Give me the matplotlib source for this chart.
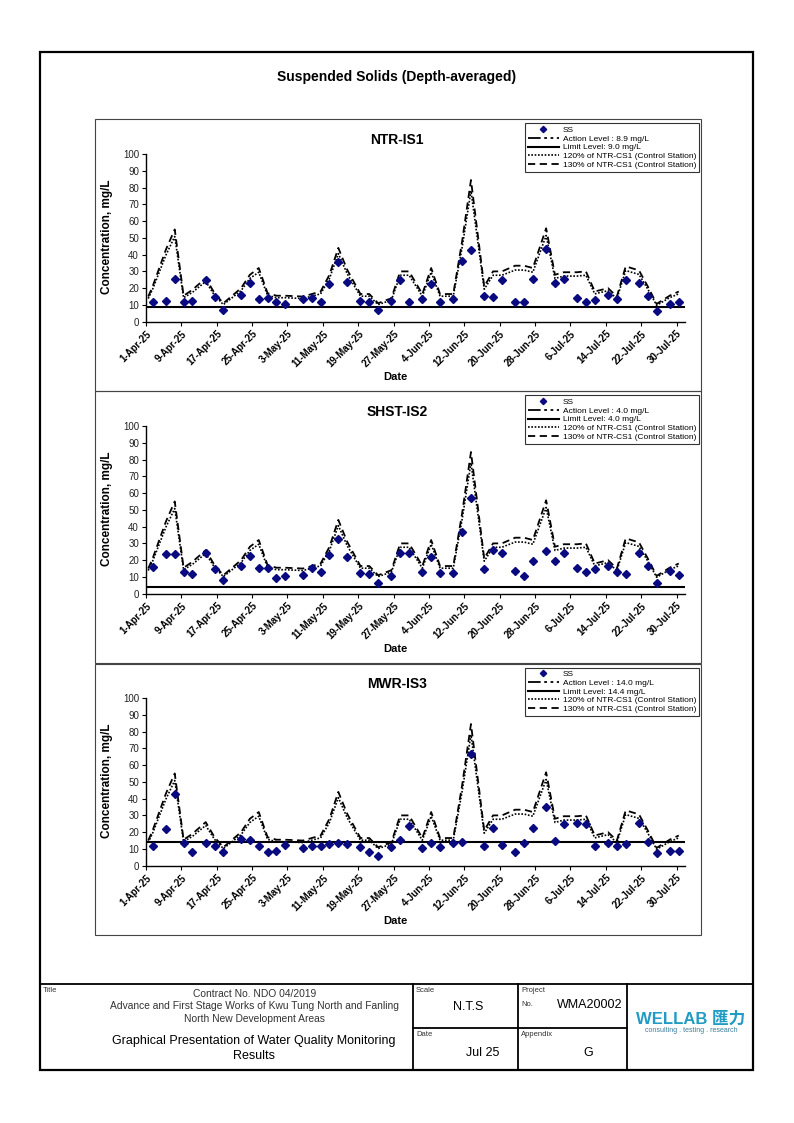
import numpy as np
import pandas as pd
import matplotlib
matplotlib.use('Agg')
import matplotlib.pyplot as plt
import matplotlib.dates as mdates
from matplotlib.lines import Line2D
from matplotlib.patches import Rectangle

plt.rcParams['font.family'] = ['Liberation Sans', 'Noto Sans CJK SC', 'DejaVu Sans']

# 采样日期 (监测站)
ss_dates = ['2025-04-02', '2025-04-05', '2025-04-07', '2025-04-09', '2025-04-11', '2025-04-14',
            '2025-04-16', '2025-04-18', '2025-04-22', '2025-04-24', '2025-04-26', '2025-04-28',
            '2025-04-30', '2025-05-02', '2025-05-06', '2025-05-08', '2025-05-10', '2025-05-12',
            '2025-05-14', '2025-05-16', '2025-05-19', '2025-05-21', '2025-05-23', '2025-05-26',
            '2025-05-28', '2025-05-30', '2025-06-02', '2025-06-04', '2025-06-06', '2025-06-09',
            '2025-06-11', '2025-06-13', '2025-06-16', '2025-06-18', '2025-06-20', '2025-06-23',
            '2025-06-25', '2025-06-27', '2025-06-30', '2025-07-02', '2025-07-04', '2025-07-07',
            '2025-07-09', '2025-07-11', '2025-07-14', '2025-07-16', '2025-07-18', '2025-07-21',
            '2025-07-23', '2025-07-25', '2025-07-28', '2025-07-30']
ctrl_dates = ['2025-04-01'] + ss_dates

# SS, mg/L
ss_ntr = [11.6, 12.4, 25.6, 11.6, 12.4, 24.6, 14.6, 6.8, 16.2, 23.0, 13.4, 14.0, 12.0,
          10.8, 13.6, 14.0, 11.6, 22.2, 35.6, 23.4, 12.6, 11.6, 6.8, 12.4, 24.6, 11.6,
          13.4, 22.6, 11.6, 13.4, 36.0, 43.0, 15.2, 14.6, 24.6, 11.6, 11.6, 25.6, 43.6,
          23.0, 25.6, 14.2, 11.6, 12.8, 16.2, 13.6, 24.6, 23.2, 15.4, 6.6, 10.8, 12.0]
ss_shst = [16.0, 23.6, 23.6, 13.0, 12.0, 24.2, 14.6, 8.0, 16.6, 22.6, 15.6, 15.6, 9.4,
           10.4, 11.4, 15.6, 13.0, 23.0, 32.6, 22.0, 12.6, 11.6, 6.6, 10.4, 24.2, 24.2,
           13.0, 22.0, 12.6, 12.6, 36.6, 57.2, 14.6, 25.8, 24.0, 13.6, 10.8, 19.4, 25.6,
           19.4, 24.0, 15.6, 13.0, 14.6, 16.6, 13.0, 11.6, 24.2, 16.4, 6.4, 13.4, 11.4]
ss_mwr = [11.6, 22.0, 42.6, 13.6, 8.0, 13.6, 12.0, 8.4, 16.0, 15.6, 12.0, 8.0, 9.0,
          12.6, 10.6, 11.6, 11.6, 13.2, 13.6, 13.2, 11.4, 8.0, 5.8, 11.4, 15.4, 23.6,
          10.8, 13.8, 11.0, 13.4, 14.4, 66.5, 11.6, 22.2, 12.6, 8.0, 13.6, 22.6, 35.0,
          14.6, 24.6, 25.4, 24.6, 11.6, 13.6, 11.6, 13.0, 25.4, 14.0, 7.6, 8.6, 8.6]

# NTR-CS1 对照站 120% / 130%
ctrl_120 = [13.8, 19.4, 39.7, 50.8, 14.3, 17.5, 24.0, 15.7, 10.2, 18.5, 25.8, 29.5, 15.7, 14.3,
            14.3, 13.8, 15.2, 16.6, 25.8, 40.6, 28.6, 15.2, 15.2, 10.2, 12.9, 27.7, 27.7,
            15.2, 29.5, 15.2, 15.2, 44.3, 78.0, 19.4, 27.7, 27.7, 30.8, 30.8, 29.5, 51.4,
            25.8, 27.2, 27.2, 27.7, 16.6, 18.5, 13.8, 30.5, 28.2, 19.4, 9.8, 14.4, 16.6]
ctrl_130 = [15.0, 21.0, 43.0, 55.0, 15.5, 19.0, 26.0, 17.0, 11.0, 20.0, 28.0, 32.0, 17.0, 15.5,
            15.5, 15.0, 16.5, 18.0, 28.0, 44.0, 31.0, 16.5, 16.5, 11.0, 14.0, 30.0, 30.0,
            16.5, 32.0, 16.5, 16.5, 48.0, 84.5, 21.0, 30.0, 30.0, 33.4, 33.4, 32.0, 55.7,
            28.0, 29.5, 29.5, 30.0, 18.0, 20.0, 15.0, 33.0, 30.6, 21.0, 10.6, 15.6, 18.0]

stations = ['NTR-IS1', 'SHST-IS2', 'MWR-IS3']
ss_values = [ss_ntr, ss_shst, ss_mwr]
action_levels = [8.9, 4.0, 14.0]
limit_levels = [9.0, 4.0, 14.4]

W, H = 794, 1123


def fx(x):
    return x / W


def fy(y):
    return 1 - y / H


def date_label(d, pos=None):
    d = mdates.num2date(d)
    return f"{d.day}-{d.strftime('%b-%y')}"


fig = plt.figure(figsize=(W / 100, H / 100), dpi=100)

# 页面外框
fig.patches.append(Rectangle((fx(40), fy(1070)), fx(753) - fx(40), fy(52) - fy(1070),
                             transform=fig.transFigure, fill=False, lw=1.6, ec='black'))
fig.text(fx(397), fy(77.5), 'Suspended Solids (Depth-averaged)', ha='center', va='center',
         fontsize=10, fontweight='bold')

half_day = pd.Timedelta(hours=12)
x_ss = pd.to_datetime(ss_dates) + half_day
x_ctrl = pd.to_datetime(ctrl_dates) + half_day
ticks = pd.date_range('2025-04-01', '2025-07-30', freq='8D')

action_dash = (7, 2, 1.5, 2, 1.5, 2)

for i, name in enumerate(stations):
    off = 272 * i

    # 图表边框
    fig.patches.append(Rectangle((fx(95), fy(391 + off)), fx(701) - fx(95), fy(119.5 + off) - fy(391 + off),
                                 transform=fig.transFigure, fill=False, lw=0.8, ec='#444444'))

    ax = fig.add_axes([fx(146), fy(321.7 + off), fx(685.4) - fx(146), (321.7 - 154) / H])
    ax.axhline(limit_levels[i], color='black', lw=1.5, zorder=2)
    ax.axhline(action_levels[i], color='black', lw=1.3, dashes=action_dash, zorder=2)
    ax.plot(x_ctrl, ctrl_120, color='black', lw=1.2, dashes=(1, 1), zorder=3)
    ax.plot(x_ctrl, ctrl_130, color='black', lw=1.3, dashes=(4, 2.5), zorder=3)
    ax.plot(x_ss, ss_values[i], linestyle='none', marker='D', markersize=3.7,
            color='#0a0a80', zorder=4)

    ax.set_xlim(pd.Timestamp('2025-04-01'), pd.Timestamp('2025-08-01'))
    ax.set_ylim(0, 100)
    ax.set_yticks(np.arange(0, 101, 10))
    ax.set_xticks(ticks)
    ax.xaxis.set_major_formatter(plt.FuncFormatter(date_label))
    for lab in ax.get_xticklabels():
        lab.set_rotation(45)
        lab.set_ha('right')
        lab.set_rotation_mode('anchor')
        lab.set_fontweight('bold')
    ax.tick_params(axis='x', labelsize=7, length=3, width=0.8, pad=2)
    ax.tick_params(axis='y', labelsize=7, length=3, width=0.8, pad=2, labelcolor='#222222')
    for s in ['top', 'right']:
        ax.spines[s].set_visible(False)
    for s in ['left', 'bottom']:
        ax.spines[s].set_linewidth(1.0)
    ax.patch.set_alpha(0)

    fig.text(fx(397), fy(140.5 + off), name, ha='center', va='center', fontsize=10, fontweight='bold')
    fig.text(fx(107), fy(237 + off), 'Concentration, mg/L', ha='center', va='center', rotation=90,
             fontsize=8.5, fontweight='bold')
    fig.text(fx(395), fy(377 + off), 'Date', ha='center', va='center', fontsize=8, fontweight='bold')

    handles = [
        Line2D([], [], linestyle='none', marker='D', markersize=3.2, color='#0a0a80'),
        Line2D([], [], color='black', lw=1.3, dashes=action_dash),
        Line2D([], [], color='black', lw=1.5),
        Line2D([], [], color='black', lw=1.2, dashes=(1, 1)),
        Line2D([], [], color='black', lw=1.3, dashes=(4, 2.5)),
    ]
    labels = ['SS',
              f'Action Level : {action_levels[i]:.1f} mg/L',
              f'Limit Level: {limit_levels[i]:.1f} mg/L',
              '120% of NTR-CS1 (Control Station)',
              '130% of NTR-CS1 (Control Station)']
    leg = ax.legend(handles, labels, loc='upper right', bbox_to_anchor=(fx(698.5), fy(123.5 + off)),
                    bbox_transform=fig.transFigure, fontsize=6, frameon=True, fancybox=False,
                    handlelength=3.8, handletextpad=0.4, labelspacing=0.12, borderpad=0.3,
                    borderaxespad=0)
    leg.get_frame().set_edgecolor('black')
    leg.get_frame().set_linewidth(0.8)

# 图框标题栏
lines = [((40, 753), (984, 984)), ((413, 413), (984, 1070)), ((518, 518), (984, 1070)),
         ((627, 627), (984, 1070)), ((413, 627), (1028, 1028))]
for (xa, xb), (ya, yb) in lines:
    fig.add_artist(Line2D([fx(xa), fx(xb)], [fy(ya), fy(yb)], transform=fig.transFigure,
                          color='black', lw=1.3))

small = dict(fontsize=5.5, ha='left', va='center', color='#333333')
fig.text(fx(43), fy(990), 'Title', **small)
fig.text(fx(416), fy(990), 'Scale', **small)
fig.text(fx(521), fy(990), 'Project', **small)
fig.text(fx(521), fy(1004), 'No.', **small)
fig.text(fx(416), fy(1034), 'Date', **small)
fig.text(fx(521), fy(1034), 'Appendix', **small)

mid = dict(fontsize=7.4, ha='center', va='center', color='#333333')
fig.text(fx(255), fy(994), 'Contract No. NDO 04/2019', **mid)
fig.text(fx(255), fy(1006), 'Advance and First Stage Works of Kwu Tung North and Fanling', **mid)
fig.text(fx(255), fy(1019), 'North New Development Areas', **mid)

big = dict(fontsize=9, ha='center', va='center', color='black')
fig.text(fx(254), fy(1041), 'Graphical Presentation of Water Quality Monitoring', **big)
fig.text(fx(254), fy(1056), 'Results', **big)
fig.text(fx(468), fy(1007), 'N.T.S', **big)
fig.text(fx(590), fy(1005), 'WMA20002', **big)
fig.text(fx(483), fy(1053), 'Jul 25', **big)
fig.text(fx(588), fy(1053), 'G', **big)

fig.text(fx(691), fy(1019), 'WELLAB 匯力', ha='center', va='center', fontsize=12, fontweight='bold',
         color='#1f9bc4')
fig.text(fx(691), fy(1031), 'consulting . testing . research', ha='center', va='center', fontsize=5,
         color='#3a7f99')

fig.savefig('out.png', dpi=100)
